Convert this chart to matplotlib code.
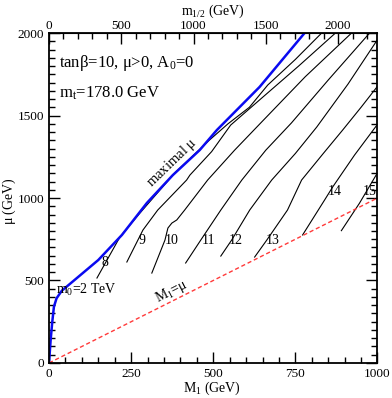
import numpy as np
import matplotlib
matplotlib.use("Agg")
import matplotlib.pyplot as plt
from matplotlib.ticker import MultipleLocator

plt.rcParams['font.family'] = ['Liberation Serif', 'DejaVu Serif']
plt.rcParams['mathtext.fontset'] = 'custom'
plt.rcParams['mathtext.rm'] = 'Liberation Serif'
plt.rcParams['mathtext.it'] = 'Liberation Serif:italic'

# maximal mu curve (M1, mu) in GeV
max_m1 = [0, 5, 10, 15, 23, 39, 150, 222, 298, 377, 459, 511, 641, 778]
max_mu = [0, 139, 250, 341, 392, 438, 624, 776, 970, 1139, 1291, 1412, 1673, 2000]

# contour lines, label -> (M1 list, mu list)
c8_m1 = [146, 216, 277, 383, 489, 545, 610, 666, 750, 830]
c8_mu = [515, 764, 909, 1152, 1352, 1450, 1550, 1685, 1840, 2000]
c9_m1 = [237, 286, 331, 419, 429, 495, 553, 650, 760, 872]
c9_mu = [612, 806, 927, 1109, 1139, 1281, 1442, 1610, 1800, 2000]
c10_m1 = [313, 353, 362, 374, 389, 413, 483, 565, 647, 780, 921]
c10_mu = [545, 745, 818, 848, 867, 927, 1109, 1290, 1460, 1735, 2000]
c11_m1 = [416, 462, 523, 587, 660, 738, 850, 976]
c11_mu = [606, 745, 927, 1109, 1290, 1455, 1715, 2000]
c12_m1 = [523, 556, 611, 678, 750, 815, 910, 1005]
c12_mu = [648, 745, 927, 1109, 1270, 1430, 1690, 1975]
c13_m1 = [626, 663, 726, 769, 835, 894, 950, 1005]
c13_mu = [642, 745, 927, 1109, 1270, 1412, 1550, 1690]
c14_m1 = [772, 839, 864, 930, 1005]
c14_mu = [776, 988, 1068, 1260, 1460]
c15_m1 = [890, 945, 1005]
c15_mu = [802, 968, 1170]

contours = [(c8_m1, c8_mu), (c9_m1, c9_mu), (c10_m1, c10_mu), (c11_m1, c11_mu),
            (c12_m1, c12_mu), (c13_m1, c13_mu), (c14_m1, c14_mu), (c15_m1, c15_mu)]

label_text = ['8', '9', '10', '11', '12', '13', '14', '15']
label_m1 = [170, 282, 373, 485, 568, 680, 869, 976]
label_mu = [612, 745, 745, 745, 745, 745, 1038, 1038]

m_half_ratio = 0.44  # M1 = 0.44 m_1/2
top_ticks = [0, 500, 1000, 1500, 2000]

fig = plt.figure(figsize=(3.92, 3.98), dpi=100)
ax = fig.add_axes([0.125, 0.088, 0.838, 0.829])

for xs, ys in contours:
    ax.plot(xs, ys, color='black', lw=0.8)
ax.plot(max_m1, max_mu, color='#0a0af0', lw=1.8)
ax.plot([0, 1000], [0, 1000], color='#ff3a3a', lw=1.0, ls=(0, (3, 2)))

for t, x, y in zip(label_text, label_m1, label_mu):
    ax.text(x, y, t, fontsize=10, ha='center', va='center')

ax.text(30, 1818, r'tan$\mathrm{\beta}$=10, $\mathrm{\mu}$>0, A$_0$=0', fontsize=12, va='center')
ax.text(30, 1636, r'm$_\mathrm{t}$=178.0 GeV', fontsize=12, va='center')
ax.text(22, 442, r'm$_0$=2 TeV', fontsize=10, va='center')
ax.text(374, 1212, r'maximal $\mathrm{\mu}$', fontsize=10.5, ha='center', va='center', rotation=44)
ax.text(374, 430, r'M$_1$=$\mathrm{\mu}$', fontsize=10, ha='center', va='center', rotation=27)

ax.set_xlim(0, 1000)
ax.set_ylim(0, 2000)
ax.xaxis.set_major_locator(MultipleLocator(250))
ax.xaxis.set_minor_locator(MultipleLocator(50))
ax.yaxis.set_major_locator(MultipleLocator(500))
ax.yaxis.set_minor_locator(MultipleLocator(50))
ax.tick_params(which='both', direction='in', right=True, top=False, labelsize=9.5)
ax.tick_params(which='major', length=8, width=1)
ax.tick_params(which='minor', length=4, width=1)
ax.set_xlabel(r'M$_1$ (GeV)', fontsize=10)
ax.set_ylabel(r'$\mathrm{\mu}$ (GeV)', fontsize=10)
ax.xaxis.set_label_coords(0.496, -0.05)
ax.yaxis.set_label_coords(-0.093, 0.49)

sec = ax.secondary_xaxis('top', functions=(lambda x: x / m_half_ratio, lambda x: x * m_half_ratio))
sec.set_xticks(top_ticks)
sec.xaxis.set_minor_locator(MultipleLocator(100))
sec.tick_params(which='both', direction='in', labelsize=9.5, pad=1)
sec.tick_params(which='major', length=8, width=1)
sec.tick_params(which='minor', length=4, width=1)
sec.set_xlabel(r'm$_{1/2}$ (GeV)', fontsize=10, labelpad=3.5)

for s in ax.spines.values():
    s.set_linewidth(1.3)

fig.savefig('out.png', dpi=100)
